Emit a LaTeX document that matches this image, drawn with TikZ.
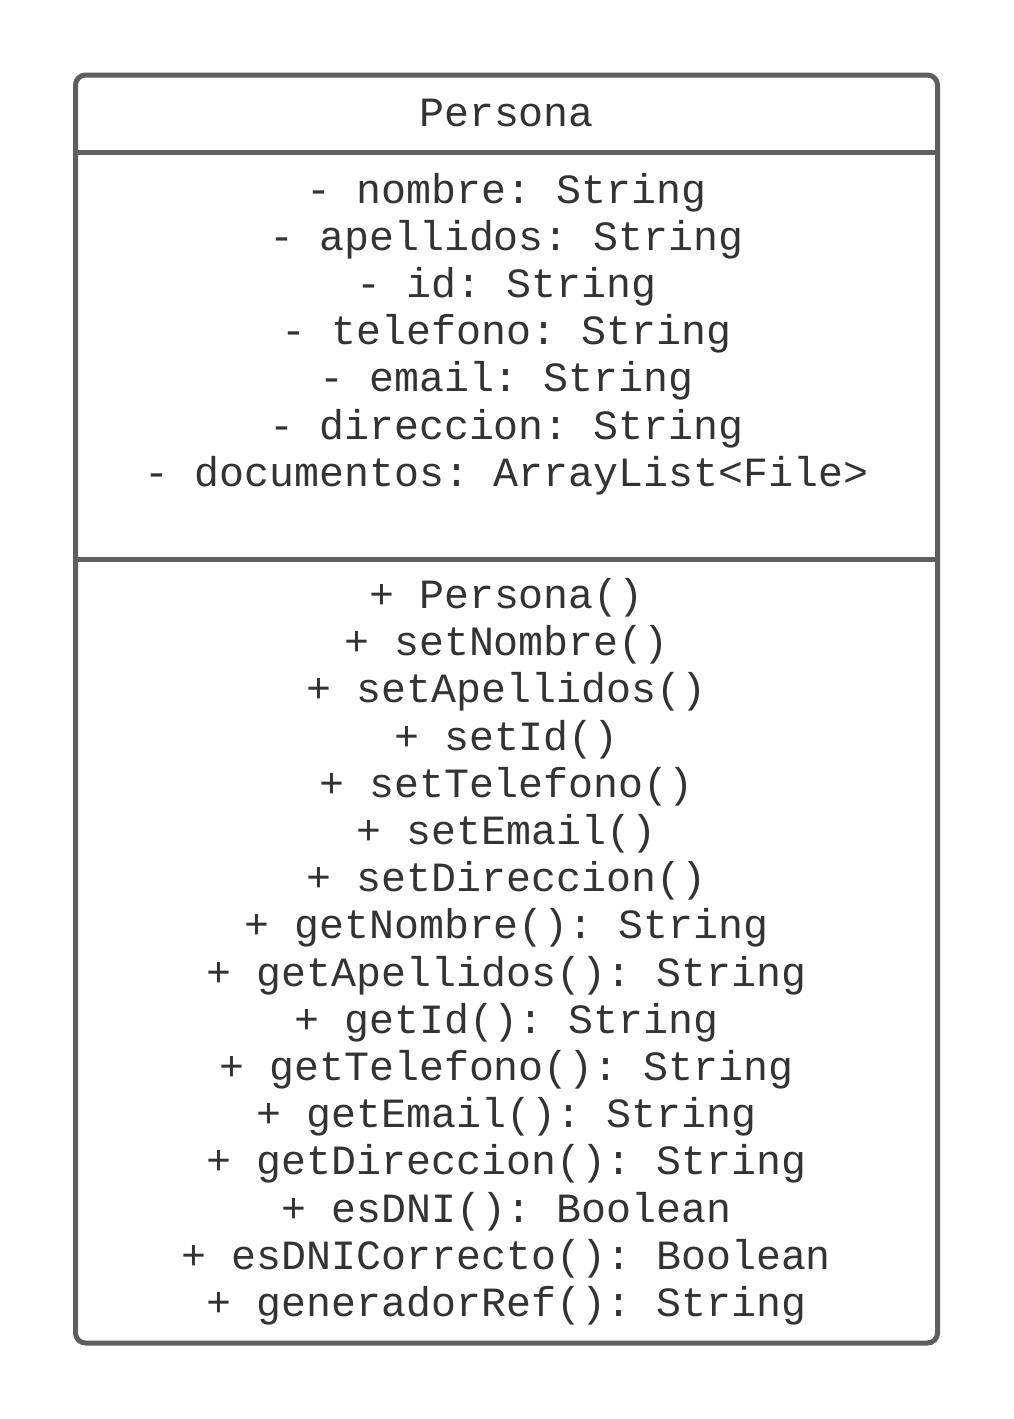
\documentclass[tikz,border=0pt]{standalone}
\usepackage{fontspec}
\setmonofont{Liberation Mono}
\usepackage{xcolor}
\usetikzlibrary{positioning}
\definecolor{umlline}{HTML}{5E5E5E}
\definecolor{umltext}{HTML}{333333}
\tikzset{classbox/.style={
		rectangle,
		draw = umlline,
		line width = 5pt,
		rounded corners = 10pt,
		inner sep = 0pt,
		minimum width = 862pt,
		minimum height = 1268pt,
	}
}
\tikzset{member/.style={
		text = umltext,
		font = \ttfamily\fontsize{41.6}{47.2}\selectfont,
		inner sep = 0pt,
		anchor = base,
	}
}
\tikzset{divider/.style={
		draw = umlline,
		line width = 5pt,
	}
}
\newcommand{\rowskip}{47.2}

\begin{document}
\begin{tikzpicture}[x=1pt, y=-1pt]
\useasboundingbox (0,0) rectangle (1013,1419);

% class box
\node[classbox] (persona) at (506.5,709) {};

\coordinate (headleft) at (persona.west|-0,152);
\coordinate (headright) at (persona.east|-0,152);
\coordinate (attrleft) at (persona.west|-0,559);
\coordinate (attrright) at (persona.east|-0,559);
\draw[divider] (headleft) -- (headright);
\draw[divider] (attrleft) -- (attrright);

% name
\node[member] (name) at (506.5,126) {Persona};

% attributes
\foreach \txt [count=\i from 0] in {- nombre: String, - apellidos: String, - id: String, - telefono: String, - email: String, - direccion: String, - documentos: ArrayList<File>}
	\node[member] (attr\i) at (506.5,203+\rowskip*\i) {\txt};

% methods
\foreach \txt [count=\i from 0] in {+ Persona(), + setNombre(), + setApellidos(), + setId(), + setTelefono(), + setEmail(), + setDireccion(), + getNombre(): String, + getApellidos(): String, + getId(): String, + getTelefono(): String, + getEmail(): String, + getDireccion(): String, + esDNI(): Boolean, + esDNICorrecto(): Boolean, + generadorRef(): String}
	\node[member] (meth\i) at (506.5,608.5+\rowskip*\i) {\txt};

\end{tikzpicture}
\end{document}
